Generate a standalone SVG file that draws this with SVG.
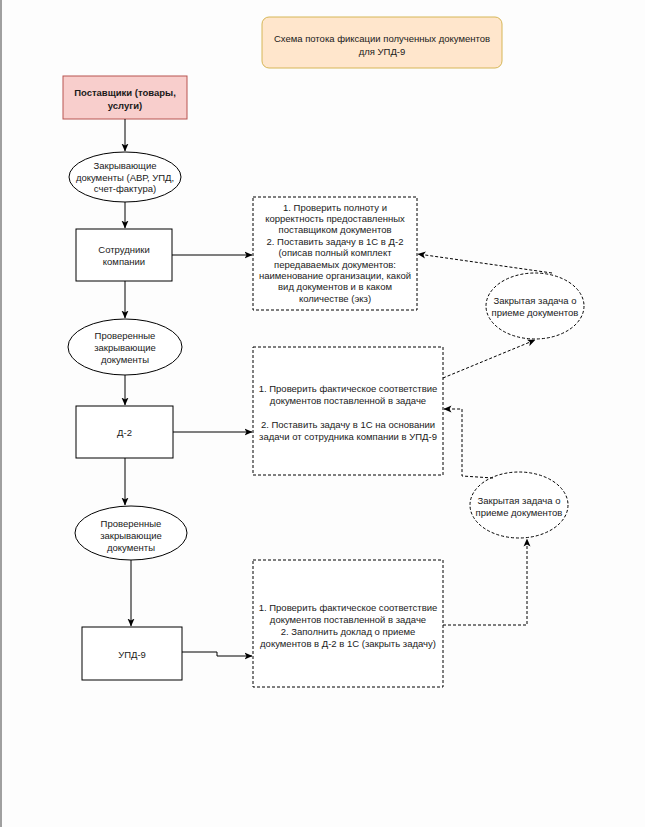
<svg xmlns="http://www.w3.org/2000/svg" width="645" height="827" viewBox="0 0 645 827">
<defs>
<marker id="arr" viewBox="0 0 8 8" refX="7.5" refY="4" markerWidth="8" markerHeight="8" markerUnits="userSpaceOnUse" orient="auto">
<path d="M0,0.5 L8,4 L0,7.5 L2,4 Z" fill="#000"/>
</marker>
</defs>
<style>
text{font-family:"Liberation Sans",Arial,sans-serif;font-size:9.5px;fill:#1a1a1a;text-anchor:middle}
.b{font-weight:bold}
.solid{fill:#fff;stroke:#000;stroke-width:1}
.dash{fill:#fff;stroke:#000;stroke-width:1;stroke-dasharray:3 2}
.c{fill:none;stroke:#000;stroke-width:1;marker-end:url(#arr)}
.cd{fill:none;stroke:#000;stroke-width:1;stroke-dasharray:3 2;marker-end:url(#arr)}
</style>
<rect x="0" y="0" width="645" height="827" fill="#fdfdfd"/>
<rect x="0" y="0" width="2" height="827" fill="#a0a0a0"/>

<g id="title">
<rect x="262" y="17" width="240" height="51" rx="7" fill="#ffe6cc" stroke="#d6b656" stroke-width="1"/>
<text x="382" y="42">Схема потока фиксации полученных документов</text>
<text x="382" y="55">для УПД-9</text>
</g>

<g id="suppliers">
<rect x="63" y="76" width="124" height="43" fill="#f8cecc" stroke="#b85450" stroke-width="1"/>
<text class="b" x="125" y="96">Поставщики (товары,</text>
<text class="b" x="125" y="109">услуги)</text>
</g>

<g id="closing-docs">
<ellipse cx="125" cy="177" rx="56" ry="25" class="solid"/>
<text x="125" y="169">Закрывающие</text>
<text x="125" y="180.5">документы (АВР, УПД,</text>
<text x="125" y="192">счет-фактура)</text>
</g>

<g id="employees">
<rect x="76" y="229" width="96" height="52" class="solid"/>
<text x="124" y="252.5">Сотрудники</text>
<text x="124" y="264.5">компании</text>
</g>

<g id="task-employees">
<rect x="253" y="197" width="164" height="113" class="dash"/>
<text x="335" y="210.5">1. Проверить полноту и</text>
<text x="335" y="221.9">корректность предоставленных</text>
<text x="335" y="233.3">поставщиком документов</text>
<text x="335" y="244.7">2. Поставить задачу в 1С в Д-2</text>
<text x="335" y="256.1">(описав полный комплект</text>
<text x="335" y="267.5">передаваемых документов:</text>
<text x="335" y="278.9">наименование организации, какой</text>
<text x="335" y="290.3">вид документов и в каком</text>
<text x="335" y="301.7">количестве (экз)</text>
</g>

<g id="closed-task-1">
<ellipse cx="535" cy="306" rx="49" ry="33" class="dash"/>
<text x="535" y="303.5">Закрытая задача о</text>
<text x="535" y="315.5">приеме документов</text>
</g>

<g id="checked-docs-1">
<ellipse cx="125" cy="347" rx="57" ry="28" class="solid"/>
<text x="125" y="338.5">Проверенные</text>
<text x="125" y="350.5">закрывающие</text>
<text x="125" y="362.5">документы</text>
</g>

<g id="d2">
<rect x="76" y="406" width="97" height="52" class="solid"/>
<text x="124.5" y="435.5">Д-2</text>
</g>

<g id="task-d2">
<rect x="253" y="347" width="190" height="128" class="dash"/>
<text x="348" y="391.5">1. Проверить фактическое соответствие</text>
<text x="348" y="403.5">документов  поставленной в задаче</text>
<text x="348" y="427.5">2. Поставить задачу в 1С на основании</text>
<text x="348" y="439.5">задачи от сотрудника компании в УПД-9</text>
</g>

<g id="closed-task-2">
<ellipse cx="519" cy="505" rx="49" ry="33" class="dash"/>
<text x="519" y="503.5">Закрытая задача о</text>
<text x="519" y="515.5">приеме документов</text>
</g>

<g id="checked-docs-2">
<ellipse cx="131" cy="533" rx="56" ry="27" class="solid"/>
<text x="131" y="526.5">Проверенные</text>
<text x="131" y="538.5">закрывающие</text>
<text x="131" y="550.5">документы</text>
</g>

<g id="upd9">
<rect x="82" y="627" width="100" height="53" class="solid"/>
<text x="132" y="657.5">УПД-9</text>
</g>

<g id="task-upd9">
<rect x="253" y="560" width="190" height="127" class="dash"/>
<text x="348" y="610.5">1. Проверить фактическое соответствие</text>
<text x="348" y="622.5">документов  поставленной в задаче</text>
<text x="348" y="634.5">2. Заполнить доклад о приеме</text>
<text x="348" y="646.5">документов в Д-2 в 1С (закрыть задачу)</text>
</g>

<g id="connectors">
<path class="c" d="M125,119 L125,151"/>
<path class="c" d="M125,202 L125,228"/>
<path class="c" d="M172,255 L252,255"/>
<path class="c" d="M125,281 L125,318"/>
<path class="c" d="M125,375 L125,405"/>
<path class="c" d="M173,432 L252,432"/>
<path class="c" d="M125,458 L125,505"/>
<path class="c" d="M131,560 L131,626"/>
<path class="c" d="M182,652 L217,652 L217,656 L252,656"/>
<path class="cd" d="M552,273 L418,254"/>
<path class="cd" d="M443,378 L535,340"/>
<path class="cd" d="M493,478 L462,476 L462,409 L444,409"/>
<path class="cd" d="M443,625 L527,625 L527,539"/>
</g>
</svg>
